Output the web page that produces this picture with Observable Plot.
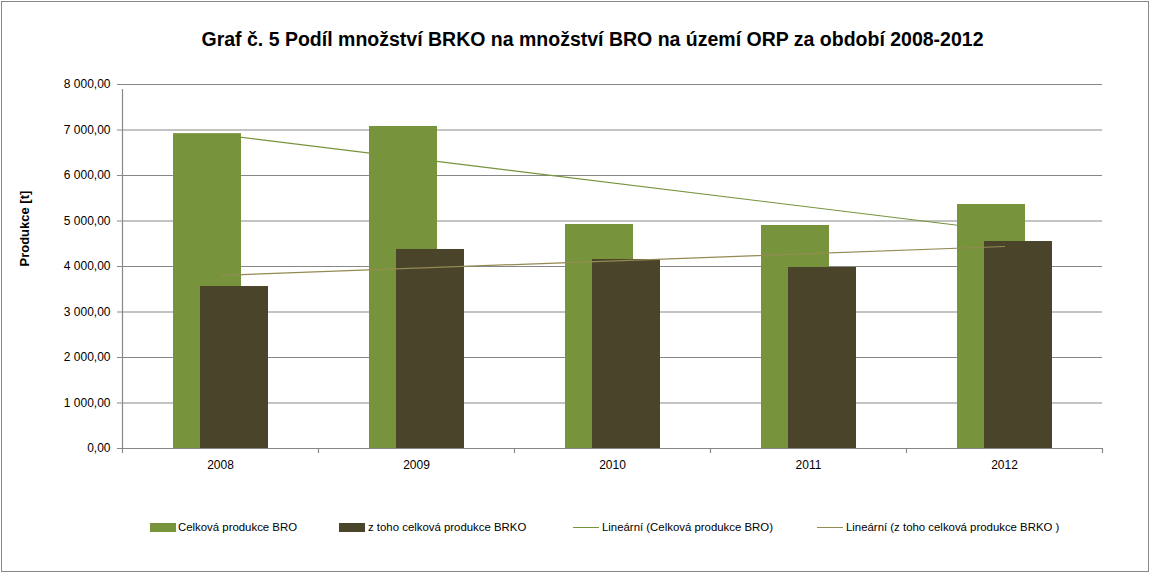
<!DOCTYPE html>
<html>
<head>
<meta charset="utf-8">
<script src="https://cdn.jsdelivr.net/npm/d3@7"></script>
<script src="https://cdn.jsdelivr.net/npm/@observablehq/plot@0.6"></script>
<style>
  body { margin: 0; background: #fff; font-family: "Liberation Sans", Arial, sans-serif; }
  #wrap { position: relative; width: 1151px; height: 574px; overflow: hidden; }
  #border { position: absolute; left: 1px; top: 1px; width: 1148px; height: 571px; box-sizing: border-box; border: 1px solid #878787; pointer-events: none; }
  #title { height: 42px; padding-top: 28px; padding-left: 34px; text-align: center; font-weight: bold; font-size: 19.5px; line-height: 22px; color: #000; }
  #chart svg { display: block; }
  #legend { position: relative; height: 84px; font-size: 11.4px; color: #000; }
  .sw { position: absolute; top: 33px; width: 26px; height: 9px; }
  .ln { position: absolute; top: 37px; width: 26px; height: 0; border-top: 1.2px solid; }
  .lt { position: absolute; top: 30px; line-height: 14px; white-space: nowrap; }
</style>
</head>
<body>
<div id="wrap">
  <div id="title">Graf č. 5 Podíl množství BRKO na množství BRO na území ORP za období 2008-2012</div>
  <div id="chart"></div>
  <div id="legend"></div>
  <div id="border"></div>
</div>
<script>
// ---- data ----
const years = ["2008", "2009", "2010", "2011", "2012"];
const celkovaBRO = [6920, 7077, 4923, 4901, 5363];
const brko = [3560, 4374, 4154, 3978, 4549];
// trend line end points (2008, 2012)
const trendYears = ["2008", "2012"];
const trendBRO = [6895, 4780];
const trendBRKO = [3805, 4440];
const yTicks = [0, 1000, 2000, 3000, 4000, 5000, 6000, 7000, 8000];
const seriesNames = ["Celková produkce BRO", "z toho celková produkce BRKO", "Lineární (Celková produkce BRO)", "Lineární (z toho celková produkce BRKO )"];

const green = "#77933C", dark = "#4A452A", trendGreen = "#77933C", trendTan = "#948A54", grid = "#878787";

const rows = years.map((y, i) => ({year: y, bro: celkovaBRO[i], brko: brko[i]}));
const tBRO = trendYears.map((y, i) => ({year: y, v: trendBRO[i]}));
const tBRKO = trendYears.map((y, i) => ({year: y, v: trendBRKO[i]}));

const loc = d3.formatLocale({decimal: ",", thousands: " ", grouping: [3], currency: ["", ""]});
const fmt = loc.format(",.2f");

const chart = Plot.plot({
  width: 1151,
  height: 420,
  marginTop: 14,
  marginBottom: 42,
  marginLeft: 122,
  marginRight: 49,
  style: {fontFamily: "'Liberation Sans', Arial, sans-serif", fontSize: "12px", color: "#000", background: "transparent"},
  x: {type: "band", domain: years, padding: 0},
  y: {domain: [0, 8000]},
  marks: [
    Plot.ruleY(yTicks, {stroke: grid, strokeWidth: 1.2}),
    Plot.ruleX([years[0]], {x: d => d, dx: -98, y1: 0, y2: 8000, insetBottom: -5, stroke: grid, strokeWidth: 1.2}),
    Plot.ruleX(years, {x: d => d, dx: -98, y1: 0, y2: 0, insetBottom: -5, stroke: grid, strokeWidth: 1.2}),
    Plot.ruleX([years[years.length - 1]], {x: d => d, dx: 98, y1: 0, y2: 0, insetBottom: -5, stroke: grid, strokeWidth: 1.2}),
    Plot.line(tBRO, {x: "year", y: "v", stroke: trendGreen, strokeWidth: 1.2}),
    Plot.barY(rows, {x: "year", y: "bro", fill: green, insetLeft: 51, insetRight: 77}),
    Plot.barY(rows, {x: "year", y: "brko", fill: dark, insetLeft: 78, insetRight: 50}),
    Plot.line(tBRKO, {x: "year", y: "v", stroke: trendTan, strokeWidth: 1.2}),
    Plot.axisY({ticks: yTicks, tickFormat: fmt, tickSize: 5, tickPadding: 7, stroke: grid, label: null, fontSize: 12}),
    Plot.axisX({tickSize: 0, tickPadding: 12, label: null, fontSize: 12}),
    Plot.text(["Produkce [t]"], {frameAnchor: "left", rotate: -90, dx: -98, fontWeight: "bold", fontSize: 13, fill: "#000"})
  ]
});
document.getElementById("chart").appendChild(chart);

// ---- legend ----
const legend = document.getElementById("legend");
const items = [
  {kind: "sw", color: green, left: 150, text: 178},
  {kind: "sw", color: dark, left: 339, text: 368},
  {kind: "ln", color: trendGreen, left: 573, text: 602},
  {kind: "ln", color: trendTan, left: 817, text: 846}
];
items.forEach((it, i) => {
  const m = document.createElement("div");
  m.className = it.kind;
  m.style.left = it.left + "px";
  if (it.kind === "sw") m.style.background = it.color; else m.style.borderTopColor = it.color;
  legend.appendChild(m);
  const t = document.createElement("div");
  t.className = "lt";
  t.style.left = it.text + "px";
  t.textContent = seriesNames[i];
  legend.appendChild(t);
});
</script>
</body>
</html>
